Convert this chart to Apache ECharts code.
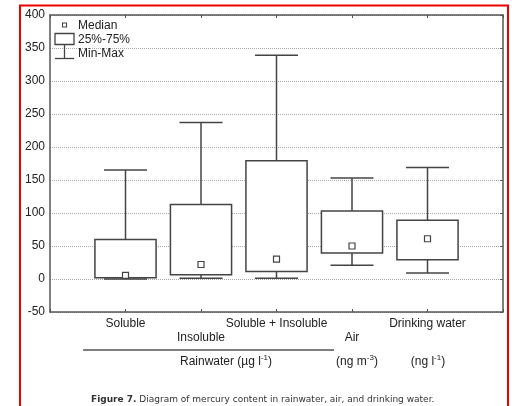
<!DOCTYPE html>
<html>
<head>
<meta charset="utf-8">
<script src="https://cdn.jsdelivr.net/npm/echarts@6/dist/echarts.min.js"></script>
<style>html,body{margin:0;padding:0;background:#fff}#c{width:512px;height:406px}</style>
</head>
<body>
<div id="c"></div>
<script>
// ---- data ----
var categories = ['Soluble', 'Insoluble', 'Soluble + Insoluble', 'Air', 'Drinking water'];
var labelRow   = [0, 1, 0, 1, 0];
var minValues    = [0, 1, 1, 21, 9];
var q1Values     = [2, 6.5, 11.5, 39.5, 29];
var medianValues = [5.5, 22, 30, 50, 61];
var q3Values     = [60, 113, 179, 103, 89];
var maxValues    = [165, 237, 339, 153, 169];
var yTicks = [-50, 0, 50, 100, 150, 200, 250, 300, 350, 400];
var legendLabels = ['Median', '25%-75%', 'Min-Max'];
var groupLabels = ['Rainwater (\u00b5g l', '(ng m', '(ng l'];
var caption = ['Figure 7.', ' Diagram of mercury content in rainwater, air, and drinking water.'];

var seriesData = categories.map(function (c, i) {
  return [i + 1, minValues[i], q1Values[i], medianValues[i], q3Values[i], maxValues[i]];
});

var LINE = '#444';
var TXT = '#222';
var FONT = '"Liberation Sans", Arial, sans-serif';

var chart = echarts.init(document.getElementById('c'));
chart.setOption({
  animation: false,
  grid: { left: 50, top: 15, right: 9, bottom: 94 },
  xAxis: [{
    type: 'value', min: 0, max: 6, interval: 1, position: 'bottom',
    axisLine: { show: true, onZero: false, lineStyle: { color: '#555', width: 1.5 } },
    axisTick: { show: true, inside: true, length: 3, lineStyle: { color: '#555' } },
    splitLine: { show: false },
    axisLabel: {
      margin: 5, color: TXT, fontSize: 12, fontFamily: FONT, lineHeight: 14,
      showMinLabel: true, showMaxLabel: true,
      formatter: function (v) {
        var i = Math.round(v) - 1;
        if (i < 0 || i >= categories.length) return '';
        return labelRow[i] ? '\n' + categories[i] : categories[i];
      }
    }
  }, {
    type: 'value', min: 0, max: 6, interval: 1, position: 'top',
    axisLine: { show: true, onZero: false, lineStyle: { color: '#555', width: 1.5 } },
    axisTick: { show: true, inside: true, length: 3, lineStyle: { color: '#555' } },
    splitLine: { show: false }, axisLabel: { show: false }
  }],
  yAxis: [{
    type: 'value', min: -50, max: 400, interval: 50, position: 'left',
    axisLine: { show: true, onZero: false, lineStyle: { color: '#555', width: 1.5 } },
    axisTick: { show: false },
    splitLine: { show: true, lineStyle: { color: '#aaa', type: [1, 1], width: 1 } },
    axisLabel: { margin: 5, color: TXT, fontSize: 12, fontFamily: FONT }
  }, {
    type: 'value', min: -50, max: 400, interval: 50, position: 'right',
    axisLine: { show: true, onZero: false, lineStyle: { color: '#555', width: 1.5 } },
    axisTick: { show: true, inside: true, length: 3, lineStyle: { color: '#555' } },
    splitLine: { show: false }, axisLabel: { show: false }
  }],
  series: [{
    type: 'custom',
    xAxisIndex: 0, yAxisIndex: 0,
    data: seriesData,
    renderItem: function (params, api) {
      var x = api.value(0);
      var band = api.size([1, 0])[0];
      var bw = band * 0.81, cw = band * 0.57;
      var pMin = api.coord([x, api.value(1)]);
      var pQ1 = api.coord([x, api.value(2)]);
      var pMed = api.coord([x, api.value(3)]);
      var pQ3 = api.coord([x, api.value(4)]);
      var pMax = api.coord([x, api.value(5)]);
      var cx = pMin[0];
      var ls = { stroke: LINE, lineWidth: 1.5, fill: null };
      return {
        type: 'group',
        children: [
          { type: 'line', shape: { x1: cx, y1: pMax[1], x2: cx, y2: pQ3[1] }, style: ls },
          { type: 'line', shape: { x1: cx, y1: pQ1[1], x2: cx, y2: pMin[1] }, style: ls },
          { type: 'line', shape: { x1: cx - cw / 2, y1: pMax[1], x2: cx + cw / 2, y2: pMax[1] }, style: ls },
          { type: 'line', shape: { x1: cx - cw / 2, y1: pMin[1], x2: cx + cw / 2, y2: pMin[1] }, style: ls },
          { type: 'rect', shape: { x: cx - bw / 2, y: pQ3[1], width: bw, height: pQ1[1] - pQ3[1] },
            style: { stroke: LINE, lineWidth: 1.5, fill: '#fff' } },
          { type: 'rect', shape: { x: cx - 3, y: pMed[1] - 3, width: 6, height: 6 },
            style: { stroke: LINE, lineWidth: 1.2, fill: '#fff' } }
        ]
      };
    }
  }],
  graphic: [
    // red frame
    { type: 'rect', z: 100, shape: { x: 20, y: 5.5, width: 488, height: 420 },
      style: { stroke: '#ee0000', lineWidth: 2, fill: null } },
    // legend
    { type: 'rect', z: 50, shape: { x: 62.5, y: 23, width: 4, height: 4 }, style: { stroke: LINE, lineWidth: 1.1, fill: '#fff' } },
    { type: 'rect', z: 50, shape: { x: 55, y: 33.5, width: 19, height: 11 }, style: { stroke: LINE, lineWidth: 1.3, fill: '#fff' } },
    { type: 'line', z: 50, shape: { x1: 64.5, y1: 44.5, x2: 64.5, y2: 58.5 }, style: { stroke: LINE, lineWidth: 1.3 } },
    { type: 'line', z: 50, shape: { x1: 55, y1: 58.5, x2: 74, y2: 58.5 }, style: { stroke: LINE, lineWidth: 1.3 } },
    { type: 'text', z: 50, x: 78, y: 25.5, style: { text: legendLabels[0], fill: TXT, font: '12px ' + FONT, verticalAlign: 'middle' } },
    { type: 'text', z: 50, x: 78, y: 39.5, style: { text: legendLabels[1], fill: TXT, font: '12px ' + FONT, verticalAlign: 'middle' } },
    { type: 'text', z: 50, x: 78, y: 54, style: { text: legendLabels[2], fill: TXT, font: '12px ' + FONT, verticalAlign: 'middle' } },
    // group underline
    { type: 'line', shape: { x1: 83, y1: 350, x2: 334, y2: 350 }, style: { stroke: '#555', lineWidth: 1.5 } },
    { type: 'text', x: 226, y: 362, style: {
        text: '{a|' + groupLabels[0] + '}{s|-1}{a|)}', align: 'center', verticalAlign: 'middle',
        rich: { a: { fontSize: 12, fontFamily: FONT, fill: TXT, lineHeight: 16 }, s: { fontSize: 8, fontFamily: FONT, fill: TXT, verticalAlign: 'top', lineHeight: 10 } } } },
    { type: 'text', x: 357, y: 362, style: {
        text: '{a|' + groupLabels[1] + '}{s|-3}{a|)}', align: 'center', verticalAlign: 'middle',
        rich: { a: { fontSize: 12, fontFamily: FONT, fill: TXT, lineHeight: 16 }, s: { fontSize: 8, fontFamily: FONT, fill: TXT, verticalAlign: 'top', lineHeight: 10 } } } },
    { type: 'text', x: 428, y: 362, style: {
        text: '{a|' + groupLabels[2] + '}{s|-1}{a|)}', align: 'center', verticalAlign: 'middle',
        rich: { a: { fontSize: 12, fontFamily: FONT, fill: TXT, lineHeight: 16 }, s: { fontSize: 8, fontFamily: FONT, fill: TXT, verticalAlign: 'top', lineHeight: 10 } } } },
    // caption
    { type: 'text', x: 91, y: 400, style: {
        text: '{b|' + caption[0] + '}{n|' + caption[1] + '}', verticalAlign: 'middle',
        rich: { b: { fontSize: 9, fontFamily: '"DejaVu Sans", Verdana, sans-serif', fontWeight: 'bold', fill: '#333' },
                n: { fontSize: 9, fontFamily: '"DejaVu Sans", Verdana, sans-serif', fill: '#333' } } } }
  ]
});
</script>
</body>
</html>
